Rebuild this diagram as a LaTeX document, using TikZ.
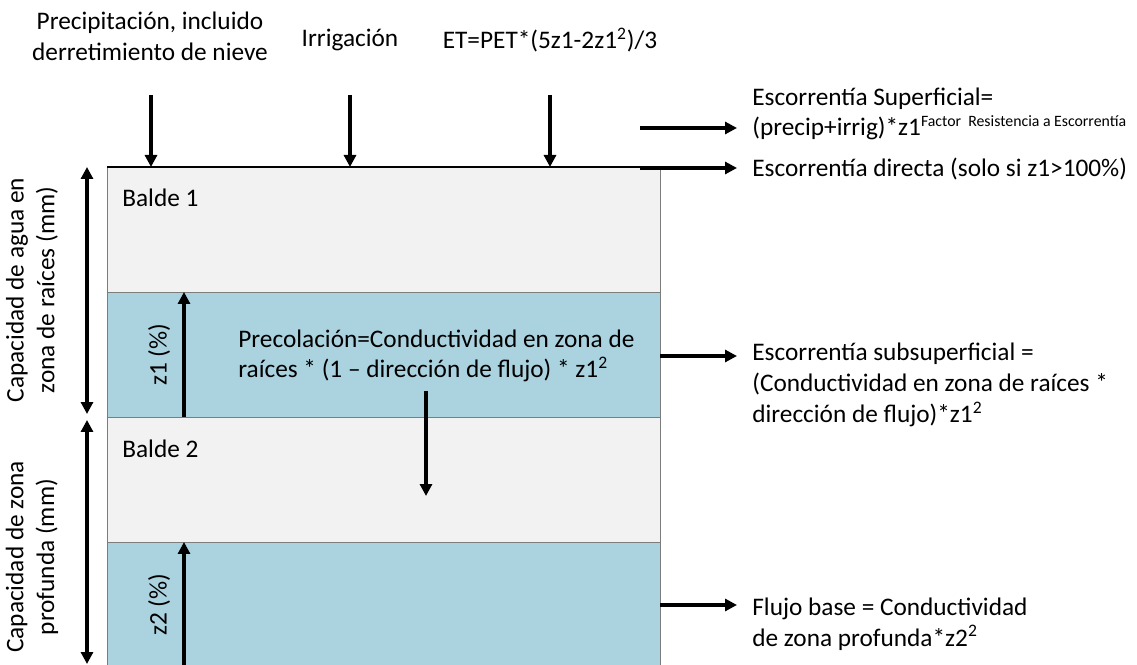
\documentclass[tikz,border=0pt]{standalone}
\usepackage{fontspec}
\setmainfont{Carlito}
\usetikzlibrary{arrows.meta}
\definecolor{grisbalde}{RGB}{242,242,242}
\definecolor{azulbalde}{RGB}{170,210,223}
\definecolor{borde}{RGB}{125,125,125}

\begin{document}
\begin{tikzpicture}[x=0.02cm,y=-0.02cm,
    every node/.style={inner sep=0pt,font=\fontsize{14.4}{17.5}\selectfont},
    capa/.style={draw=borde,line width=0.6pt,anchor=north west,minimum width=11.06cm,minimum height=2.5cm},
    flecha/.style={line width=1.8pt,-{Triangle[length=2.4mm,width=2.4mm]}},
    dflecha/.style={line width=1.8pt,{Triangle[length=2.4mm,width=2.4mm]}-{Triangle[length=2.4mm,width=2.4mm]}}]
    \clip (0,0) rectangle (1137,665);

    % baldes
    \node[capa,fill=grisbalde] (B1) at (107,167) {};
    \node[capa,fill=azulbalde] (A1) at (107,292) {};
    \node[capa,fill=grisbalde] (B2) at (107,417) {};
    \node[capa,fill=azulbalde,minimum height=2.6cm] (A2) at (107,542) {};
    \draw[line width=0.9pt] (B1.north west) -- (B1.north east);

    \node[anchor=west] (T1) at (122,198) {Balde 1};
    \node[anchor=west] (T2) at (122,449) {Balde 2};

    % entradas
    \node[align=center] (P) at (150,36) {Precipitación, incluido\\derretimiento de nieve};
    \node (I) at (350,40) {Irrigación};
    \node (E) at (550,40) {ET=PET*(5z1-2z1\textsuperscript{2})/3};
    \coordinate (p) at (151,95);
    \coordinate (i) at (350,95);
    \coordinate (e) at (550,95);
    \draw[flecha] (p) -- (p |- B1.north);
    \draw[flecha] (i) -- (i |- B1.north);
    \draw[flecha] (e) -- (e |- B1.north);

    % capacidades
    \node[rotate=90,align=center] (C1) at (32,290) {Capacidad de agua en\\zona de raíces (mm)};
    \node[rotate=90,align=center] (C2) at (32,557) {Capacidad de zona\\profunda (mm)};
    \coordinate (d1) at (87,167);
    \coordinate (d1b) at (87,414);
    \coordinate (d2) at (87,420);
    \coordinate (d2b) at (87,664);
    \draw[dflecha] (d1) -- (d1b);
    \draw[dflecha] (d2) -- (d2b);

    % niveles
    \node[rotate=90] (Z1) at (159,355) {z1 (\%)};
    \node[rotate=90] (Z2) at (159,605) {z2 (\%)};
    \coordinate (z1) at (184,417);
    \coordinate (z2) at (184,665);
    \draw[flecha] (z1) -- (z1 |- A1.north);
    \draw[flecha] (z2) -- (z2 |- A2.north);

    % percolacion
    \node[anchor=west,align=left] (PC) at (238,356) {Precolación=Conductividad en zona de\\raíces * (1 -- dirección de flujo) * z1\textsuperscript{2}};
    \coordinate (pc) at (426,391);
    \draw[flecha] (pc) -- (426,496);

    % salidas
    \node[anchor=west,align=left] (ES) at (752,114) {Escorrentía Superficial=\\(precip+irrig)*z1\textsuperscript{\fontsize{9}{10}\selectfont Factor~ Resistencia a Escorrentía}};
    \node[anchor=west] (ED) at (752,169) {Escorrentía directa (solo si z1>100\%)};
    \node[anchor=west,align=left] (EB) at (752,385) {Escorrentía subsuperficial =\\(Conductividad en zona de raíces *\\dirección de flujo)*z1\textsuperscript{2}};
    \node[anchor=west,align=left] (FB) at (752,624) {Flujo base = Conductividad\\de zona profunda*z2\textsuperscript{2}};
    \coordinate (es) at (640,128);
    \coordinate (ed) at (640,168);
    \coordinate (eb) at (660,356);
    \coordinate (fb) at (660,605);
    \draw[flecha,shorten >=0.3cm] (es) -- (es -| ES.west);
    \draw[flecha,shorten >=0.3cm] (ed) -- (ed -| ED.west);
    \draw[flecha,shorten >=0.3cm] (eb) -- (eb -| EB.west);
    \draw[flecha,shorten >=0.3cm] (fb) -- (fb -| FB.west);
\end{tikzpicture}
\end{document}
